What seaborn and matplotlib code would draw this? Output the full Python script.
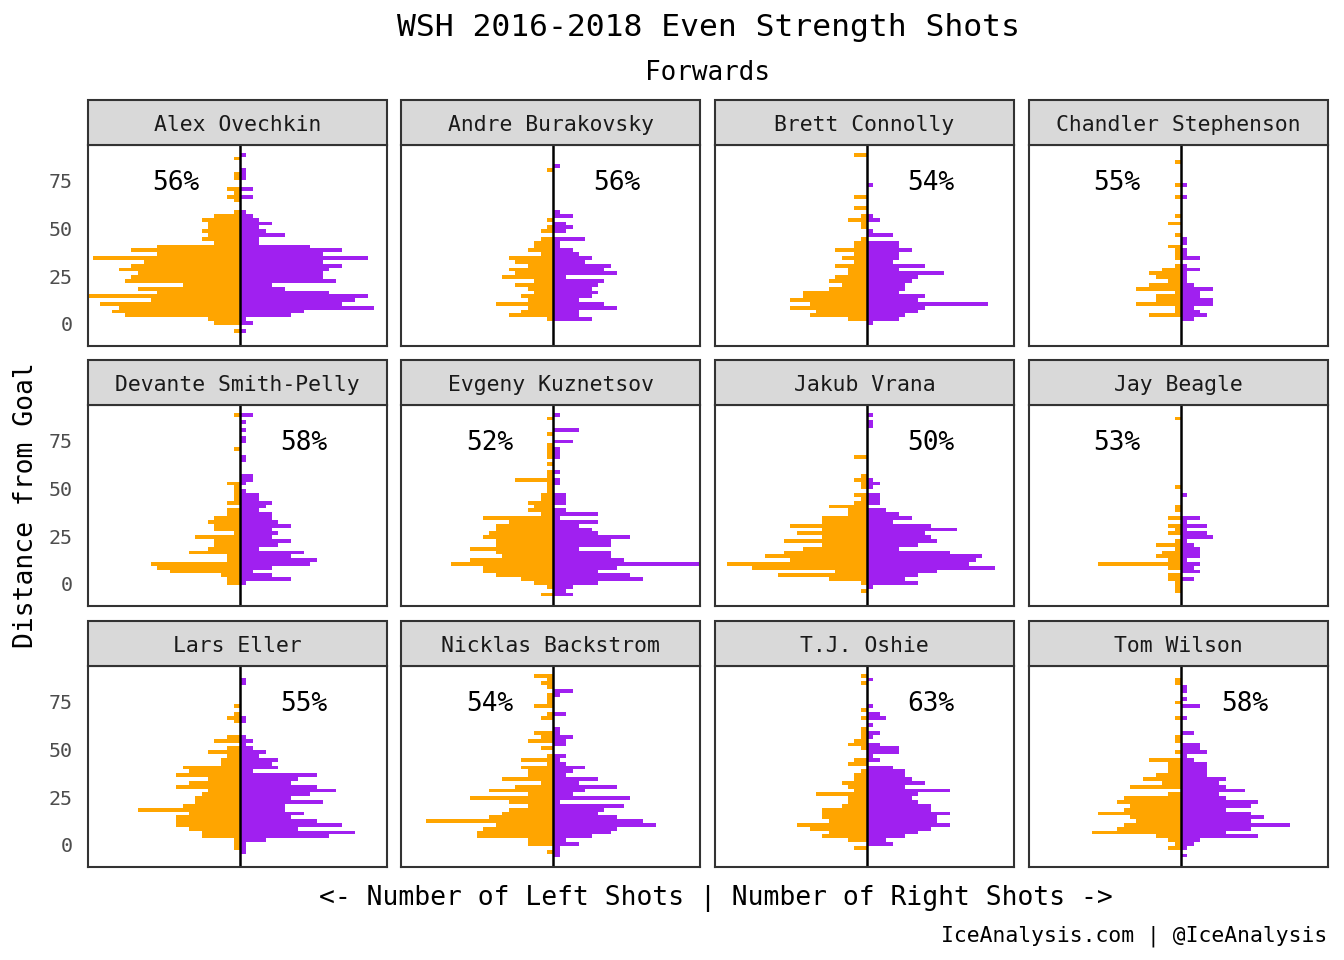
import numpy as np
import pandas as pd
import matplotlib
matplotlib.use("Agg")
import matplotlib.pyplot as plt
import matplotlib.transforms as mtransforms
import seaborn as sns
from matplotlib.patches import Rectangle

# ---------------- data ----------------
distance_bins = list(range(-4, 92, 2))   # bin centres (feet from goal)

players = ["Alex Ovechkin", "Andre Burakovsky", "Brett Connolly", "Chandler Stephenson",
           "Devante Smith-Pelly", "Evgeny Kuznetsov", "Jakub Vrana", "Jay Beagle",
           "Lars Eller", "Nicklas Backstrom", "T.J. Oshie", "Tom Wilson"]

pct_labels = ["56%", "56%", "54%", "55%", "58%", "52%", "50%", "53%", "55%", "54%", "63%", "58%"]
pct_side = ["Left", "Right", "Right", "Left", "Right", "Left", "Right", "Left", "Right", "Left", "Right", "Right"]

ovechkin_left = [0,1,0,4,5,18,20,19, 22,14,25,13,16,9,18,17, 16,19,17,15,23,13,17,13, 4,6,5,6,5,5,6,4, 1,0,0,1,2,1,2,0, 0,1,1,0,0,0,1,0]
ovechkin_right = [0,1,0,2,1,8,10,21, 16,18,20,14,7,5,15,13, 13,14,16,13,20,13,16,11, 3,3,7,4,3,5,3,2, 1,0,0,0,2,0,2,0, 0,1,1,1,0,0,0,1]
burakovsky_left = [0,0,0,0,1,7,5,4, 9,4,5,3,4,6,3,8, 6,7,4,6,7,2,4,3, 3,2,0,2,1,0,1,0, 0,0,0,0,0,0,0,0, 0,0,0,1,0,0,0,0]
burakovsky_right = [0,0,0,0,6,4,4,10, 8,4,6,7,6,7,8,2, 10,8,9,5,6,4,3,1, 1,5,0,2,3,2,0,3, 1,0,0,0,0,0,0,0, 0,0,0,0,1,0,0,0]
connolly_left = [0,0,0,0,3,9,8,12, 9,12,10,10,6,4,6,5, 3,3,5,2,4,2,5,2, 2,1,0,0,1,1,3,1, 0,2,0,0,2,0,0,0, 0,0,0,0,0,0,0,2]
connolly_right = [0,0,0,1,5,6,8,9, 19,8,9,5,6,6,7,8, 12,5,9,4,5,5,7,5, 5,0,4,1,0,0,2,1, 0,0,0,0,0,0,0,1, 0,0,0,0,0,0,0,0]
stephenson_left = [0,0,0,0,0,5,1,1, 7,4,4,1,7,5,2,4, 5,3,1,0,1,1,1,2, 0,0,1,0,0,2,0,1, 0,0,0,0,1,0,0,1, 0,0,0,0,0,1,0,0]
stephenson_right = [0,0,0,0,2,4,3,2, 5,5,3,3,5,2,1,1, 1,3,1,0,3,1,1,0, 1,1,0,0,0,0,0,0, 0,0,0,0,1,0,0,1, 0,0,0,0,0,0,0,0]
smithpelly_left = [0,0,0,2,2,3,11,13, 14,2,2,8,5,4,4,7, 1,4,4,5,4,2,2,0, 2,1,1,1,1,2,0,0, 0,0,0,0,0,0,1,0, 0,0,0,0,0,0,0,1]
smithpelly_right = [0,0,0,1,8,5,2,5, 11,12,8,10,3,6,8,5, 6,5,8,6,5,5,3,4, 5,3,3,1,0,1,2,2, 0,0,0,1,1,0,0,0, 1,1,0,1,0,1,0,2]
kuznetsov_left = [2,0,1,3,5,9,11,11, 16,13,8,9,13,9,9,11, 10,9,9,7,11,2,4,3, 4,2,2,1,1,1,6,1, 1,0,1,0,1,1,1,1, 0,0,1,0,0,0,1,0]
kuznetsov_right = [3,2,3,7,14,12,7,10, 25,11,9,9,4,9,9,12, 7,6,4,7,1,7,2,0, 2,2,2,0,0,1,1,0, 1,0,0,0,1,1,1,0, 3,0,0,4,0,0,0,1]
vrana_left = [0,1,0,1,6,14,5,18, 22,12,16,13,10,7,13,7, 11,7,12,7,7,3,3,6, 2,1,2,0,1,1,2,1, 0,0,0,0,2,0,0,0, 0,0,0,0,0,0,0,0]
vrana_right = [0,0,1,8,6,8,11,20, 16,17,18,13,5,8,11,10, 9,14,10,4,7,5,3,0, 2,2,2,0,1,2,1,0, 0,0,0,0,0,0,0,0, 0,0,0,0,1,1,0,1]
beagle_left = [0,1,1,1,2,2,0,2, 13,2,4,3,1,4,1,0, 2,1,2,0,2,0,1,1, 0,0,0,0,1,0,0,0, 0,0,0,0,0,0,0,0, 0,0,0,0,0,0,1,0]
beagle_right = [0,0,0,0,2,0,3,2, 3,1,3,3,3,2,1,5, 4,1,4,1,3,0,0,0, 0,0,1,0,0,0,0,0, 0,0,0,0,0,0,0,0, 0,0,0,0,0,0,0,0]
eller_left = [0,0,1,1,1,6,6,8, 10,10,10,8,16,9,7,7, 6,5,10,8,5,10,8,9, 3,3,2,5,2,0,4,2, 0,0,0,1,2,1,0,1, 0,0,0,0,0,0,0,0]
eller_right = [0,1,1,1,4,14,18,9, 16,12,8,10,7,7,13,8, 11,15,12,8,9,12,2,6, 5,6,3,4,2,1,2,1, 0,0,0,1,1,0,0,0, 0,0,0,0,0,1,1,0]
backstrom_left = [0,1,0,4,4,12,12,11, 9,20,10,8,7,4,7,13, 4,10,6,2,8,4,4,5, 1,5,1,0,2,0,4,2, 3,0,0,0,2,1,0,3, 1,1,1,0,1,2,1,3]
backstrom_right = [1,1,1,4,2,6,9,10, 16,14,10,7,8,11,1,12, 3,5,10,4,7,2,3,5, 2,1,2,0,0,2,2,3, 1,1,0,0,0,2,0,0, 0,0,1,3,0,0,0,0]
oshie_left = [0,0,2,0,3,7,6,9, 11,6,7,7,7,4,3,3, 8,2,3,4,2,2,1,0, 3,2,0,0,1,3,2,1, 1,1,0,0,1,0,1,0, 0,0,0,0,0,1,0,1]
oshie_right = [0,0,0,4,3,6,8,10, 13,11,11,13,10,10,8,7, 8,13,6,9,7,6,6,4, 0,2,1,5,5,2,0,1, 2,0,1,0,3,2,0,1, 0,0,0,0,0,0,1,0]
wilson_left = [0,0,2,1,2,4,14,10, 9,7,8,13,9,8,10,9, 2,0,8,3,6,4,2,2, 2,5,0,1,0,0,1,1, 0,0,0,0,1,0,0,0, 1,0,0,0,0,1,1,0]
wilson_right = [1,0,1,2,3,12,7,11, 17,11,13,11,7,11,12,7, 6,10,7,6,7,4,4,4, 4,2,1,4,3,3,0,0, 2,0,0,0,1,0,0,3, 0,1,0,1,1,0,0,0]

left_counts = [ovechkin_left, burakovsky_left, connolly_left, stephenson_left,
               smithpelly_left, kuznetsov_left, vrana_left, beagle_left,
               eller_left, backstrom_left, oshie_left, wilson_left]
right_counts = [ovechkin_right, burakovsky_right, connolly_right, stephenson_right,
                smithpelly_right, kuznetsov_right, vrana_right, beagle_right,
                eller_right, backstrom_right, oshie_right, wilson_right]

rows = []
for p, lc, rc in zip(players, left_counts, right_counts):
    for d, l, r in zip(distance_bins, lc, rc):
        rows.append({"player": p, "distance": d, "shots": -l, "side": "Left"})
        rows.append({"player": p, "distance": d, "shots": r, "side": "Right"})
df = pd.DataFrame(rows)

# ---------------- style ----------------
sns.set_theme(style="white")
plt.rcParams["font.family"] = ["DejaVu Sans Mono", "DejaVu Sans"]

W, H = 1344, 960
ORANGE = "#FFA500"
PURPLE = "#A020F0"

g = sns.FacetGrid(df, col="player", col_wrap=4, col_order=players,
                  sharex=True, sharey=True, despine=False, height=2.5, aspect=1.5)


def draw(data, color=None, **kws):
    ax = plt.gca()
    cols = data["side"].map({"Left": ORANGE, "Right": PURPLE}).tolist()
    ax.barh(data["distance"], data["shots"], height=2.0, color=cols, linewidth=0)
    ax.axvline(0, color="black", lw=1.8, zorder=3)


g.map_dataframe(draw)
g.set_titles("")
g.set_axis_labels("", "")
fig = g.figure
fig.set_size_inches(W / 100, H / 100)
fig.set_dpi(100)
fig.patch.set_facecolor("white")

col_left = [88, 401.3, 715, 1029]
row_top = [144.7, 404.7, 665.7]
pw, ph = 299, 201.5
strip_h = 44.7
label_shift = mtransforms.ScaledTranslation(0, 3 / 100, fig.dpi_scale_trans)

for i, ax in enumerate(g.axes.flat):
    r, c = divmod(i, 4)
    x0 = col_left[c]
    y0 = row_top[r]
    ax.set_position([x0 / W, 1 - (y0 + ph) / H, pw / W, ph / H])
    ax.set_xlim(-23.8, 23.0)
    ax.set_ylim(-10.1, 95.2)
    ax.set_xticks([])
    ax.set_yticks([0, 25, 50, 75])
    ax.tick_params(axis="y", length=0, pad=11, labelsize=14.4, labelcolor="#4D4D4D")
    if c != 0:
        ax.tick_params(axis="y", labelleft=False)
    else:
        ax.tick_params(axis="y", labelleft=True)
        for lab in ax.get_yticklabels():
            lab.set_transform(lab.get_transform() + label_shift)
    ax.set_facecolor("white")
    for sp in ax.spines.values():
        sp.set_visible(True)
        sp.set_color("#333333")
        sp.set_linewidth(1.5)
        sp.set_zorder(5)
    # strip
    sh = strip_h / ph
    ax.add_patch(Rectangle((0, 1), 1, sh, transform=ax.transAxes, clip_on=False,
                           facecolor="#D9D9D9", edgecolor="#333333", lw=1.5, zorder=6))
    ax.text(0.5, 1 + sh / 2 - 3 / ph, players[i], transform=ax.transAxes, ha="center", va="center",
            fontsize=15.4, color="#1A1A1A", zorder=7)
    # percentage label
    xpos = -10 if pct_side[i] == "Left" else 10
    ax.text(xpos, 75, pct_labels[i], ha="center", va="center", fontsize=18.8,
            color="black", zorder=7)

fig.text(708 / W, 1 - 28 / H, "WSH 2016-2018 Even Strength Shots", ha="center", va="center",
         fontsize=22.6, color="black")
fig.text(708 / W, 1 - 73 / H, "Forwards", ha="center", va="center", fontsize=18.7, color="black")
fig.text(716 / W, 1 - 898 / H, "<- Number of Left Shots | Number of Right Shots ->",
         ha="center", va="center", fontsize=19, color="black")
fig.text(26 / W, 1 - 505 / H, "Distance from Goal", ha="center", va="center", rotation=90,
         fontsize=19, color="black")
fig.text(1327 / W, 1 - 936 / H, "IceAnalysis.com | @IceAnalysis", ha="right", va="center",
         fontsize=15.4, color="black")

fig.savefig("out.png", dpi=100, facecolor="white")
